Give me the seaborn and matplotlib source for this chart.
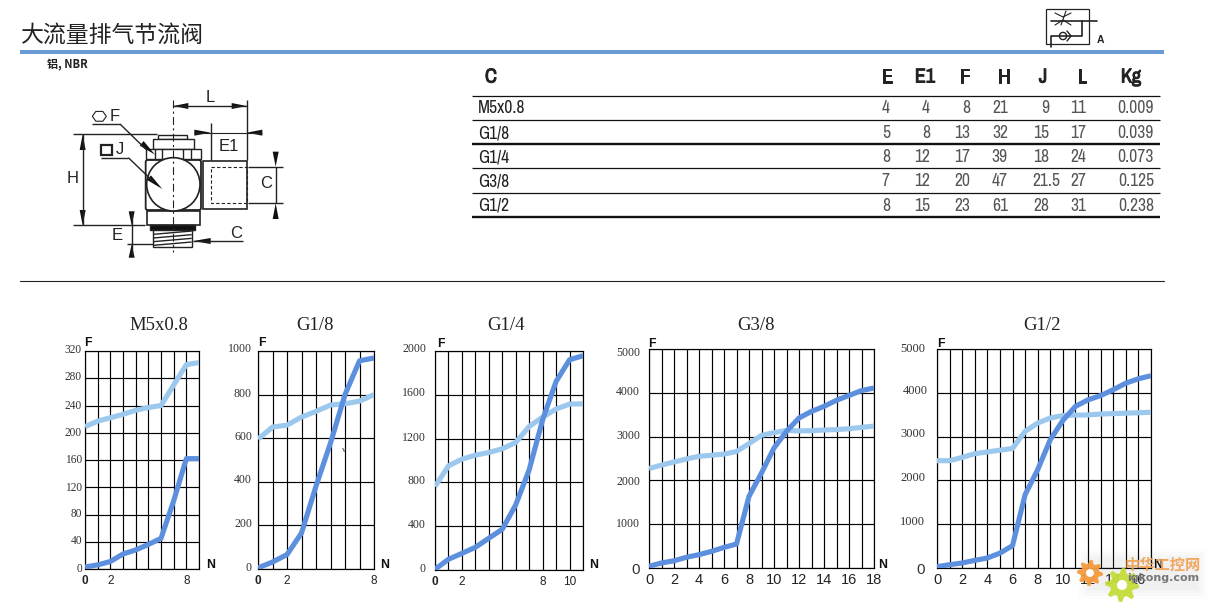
import numpy as np
import matplotlib
matplotlib.use("Agg")
import matplotlib.pyplot as plt
import matplotlib.patheffects as pe
from matplotlib import font_manager as fm
from matplotlib.patches import Rectangle, Circle, Polygon, FancyBboxPatch
from matplotlib.transforms import ScaledTranslation
import seaborn as sns

W, H = 1211, 611

# ---- data ----
titles = ["M5x0.8", "G1/8", "G1/4", "G3/8", "G1/2"]
m5_light = [209, 217, 222, 227, 233, 237, 240, 270, 300, 303]
m5_dark = [3, 6, 11, 22, 28, 36, 45, 100, 162, 162]
g18_light = [596, 651, 660, 697, 723, 752, 758, 770, 800]
g18_dark = [5, 32, 66, 165, 380, 578, 800, 955, 968]
g14_light = [762, 951, 1012, 1049, 1073, 1107, 1165, 1311, 1396, 1470, 1515, 1518]
g14_dark = [6, 98, 152, 207, 290, 372, 595, 915, 1372, 1722, 1920, 1957]
g38_light = [2270, 2350, 2420, 2490, 2550, 2575, 2600, 2660, 2840, 3030, 3090, 3140,
             3130, 3135, 3150, 3160, 3180, 3210, 3240]
g38_dark = [40, 115, 165, 245, 305, 380, 470, 548, 1635, 2170, 2740, 3120, 3425,
            3575, 3690, 3830, 3940, 4050, 4110]
g12_light = [2450, 2450, 2525, 2610, 2650, 2690, 2730, 3120, 3310, 3425, 3480, 3490,
             3495, 3515, 3525, 3535, 3545, 3555]
g12_dark = [30, 76, 114, 175, 228, 340, 510, 1675, 2245, 2930, 3370, 3690, 3840,
            3935, 4070, 4220, 4320, 4390]

y_ticks = [list(range(0, 321, 40)), list(range(0, 1001, 200)), list(range(0, 2001, 400)),
           list(range(0, 5001, 1000)), list(range(0, 5001, 1000))]
x_labelled = [[0, 2, 8], [0, 2, 8], [0, 2, 8, 10],
              list(range(0, 19, 2)), list(range(0, 17, 2))]

table_head = ["C", "E", "E1", "F", "H", "J", "L", "Kg"]
table_ports = ["M5x0.8", "G1/8", "G1/4", "G3/8", "G1/2"]
col_E = ["4", "5", "8", "7", "8"]
col_E1 = ["4", "8", "12", "12", "15"]
col_F = ["8", "13", "17", "20", "23"]
col_H = ["21", "32", "39", "47", "61"]
col_J = ["9", "15", "18", "21.5", "28"]
col_L = ["11", "17", "24", "27", "31"]
col_Kg = ["0.009", "0.039", "0.073", "0.125", "0.238"]

# ---- style ----
sns.set_theme(style="white")
plt.rcParams["font.family"] = ["Liberation Sans", "Noto Sans CJK SC", "DejaVu Sans"]
SERIF = ["Liberation Serif", "DejaVu Serif"]
installed = sorted({f.name for f in fm.fontManager.ttflist})
condensed = [n for n in installed if "Narrow" in n or "Condensed" in n]
NARROW = condensed[:1] + ["Liberation Sans"]
T_SIZE = 12.6 if condensed else 10.3
H_SIZE = 14.5 if condensed else 12.5
CJK = ["Noto Sans CJK SC", "DejaVu Sans"]
DARK, LIGHT, RULE = "#5C90DE", "#9DC8EE", "#6A9BD3"

fig = plt.figure(figsize=(W / 100, H / 100), dpi=100, facecolor="white")

pg = fig.add_axes([0, 0, 1, 1], zorder=5)
pg.set_xlim(0, W)
pg.set_ylim(H, 0)
pg.axis("off")
pg.patch.set_alpha(0)


def px(x, y, s, **kw):
    kw.setdefault("ha", "center")
    kw.setdefault("va", "center")
    pg.text(x, y, s, **kw)


# ---- charts ----
boxes = [(85, 199, 351, 569), (258, 374, 351, 569), (435, 583, 351, 570),
         (649, 874, 349, 568), (937, 1151, 349, 568)]
series = [(m5_light, m5_dark), (g18_light, g18_dark), (g14_light, g14_dark),
          (g38_light, g38_dark), (g12_light, g12_dark)]
y_pads = [3, 6, 9, 9, 12]
y_sizes = [8.3, 8.6, 8.6, 8.6, 9.0]
y_up = [[2, 2.7, 1.7, 1, 1.7, 1.7, 1, 2.7, 2.3],
        [2.3, 3.3, 3, 3, 2, 3.7],
        [3, 3, 3.3, 2.3, 3.3, 3.3],
        [0, 1.3, 0, 2.3, 2, -2.3],
        [0, 3.7, 4, 4, 3.3, 1.7]]
title_x = [159, 315, 506, 756, 1042]
f_pos = [(88, 343), (262, 343), (441, 344), (652, 344), (941, 344)]
n_pos = [(211, 565), (385, 565), (594, 565), (883, 565), (1158, 565)]

for i, (l, r, t, b) in enumerate(boxes):
    ax = fig.add_axes([l / W, 1 - b / H, (r - l) / W, (b - t) / H])
    lt, dk = series[i]
    xs = np.arange(len(lt))
    sns.lineplot(x=xs, y=lt, ax=ax, color=LIGHT, lw=3.7, errorbar=None, zorder=3,
                 solid_capstyle="butt")
    sns.lineplot(x=xs, y=dk, ax=ax, color=DARK, lw=3.7, errorbar=None, zorder=4,
                 solid_capstyle="butt")
    ax.set_xlim(0, xs[-1])
    ax.set_ylim(0, y_ticks[i][-1])
    ax.set_xticks(xs)
    big = i >= 3
    ax.set_xticklabels([str(v) if v in x_labelled[i] else "" for v in xs],
                       fontsize=10.5 if big else 8.5, color="#222222")
    ax.set_yticks(y_ticks[i])
    ax.set_yticklabels([str(v) for v in y_ticks[i]], fontfamily=SERIF, fontsize=y_sizes[i],
                       color="#333333")
    ax.tick_params(axis="both", length=0)
    ax.tick_params(axis="x", pad=3.5 if big else 4.5)
    ax.tick_params(axis="y", pad=y_pads[i] * 0.72)
    ax.grid(True, color="black", lw=0.85, zorder=1)
    ax.set_axisbelow(True)
    for s in ax.spines.values():
        s.set_visible(True)
        s.set_color("black")
        s.set_linewidth(0.85)
    for lab, up, v in zip(ax.get_yticklabels(), y_up[i], y_ticks[i]):
        dx = 3 if (i == 4 and v == 4000) else 0
        lab.set_transform(lab.get_transform() +
                          ScaledTranslation(dx / 100, up / 100, fig.dpi_scale_trans))
    if big:
        ax.get_yticklabels()[0].set_fontfamily(["Liberation Sans"])
        ax.get_yticklabels()[0].set_fontsize(11)
    else:
        ax.get_xticklabels()[0].set_fontweight("bold")
    px(title_x[i], 325, titles[i], fontfamily=SERIF, fontsize=13.5, color="#222222")
    px(*f_pos[i], "F", fontsize=8.8, fontweight="bold", color="#111111")
    px(*n_pos[i], "N", fontsize=8.8, fontweight="bold", color="#111111")
px(344, 450, "v", fontfamily=SERIF, fontsize=6, color="#333333")

# ---- header ----
px(21, 35, "大流量排气节流阀", ha="left", fontfamily=CJK, fontsize=16.5, fontweight="medium",
   color="#222222")
pg.add_patch(Rectangle((20, 50), 1144, 4, fc=RULE, ec="none"))
pg.plot([20, 1164], [281, 281], color="#222222", lw=0.8)
px(47, 65, "铝, NBR", ha="left", fontfamily=CJK, fontsize=8, fontweight="bold", color="#222222")

# ---- table ----
head_x = [491, 887, 925, 965, 1004, 1043, 1082, 1131]
heavy = [pe.withStroke(linewidth=0.7, foreground="#222222")]
for x, s in zip(head_x, table_head):
    px(x, 77, s, fontfamily=NARROW, fontsize=H_SIZE, fontweight="bold", color="#222222",
       path_effects=heavy)
for y, lw in zip([96, 120, 144, 168, 192.5, 217], [0.9, 0.9, 1.7, 0.9, 0.9, 1.7]):
    pg.plot([472, 1160], [y, y], color="#111111", lw=lw, solid_capstyle="butt")
row_y = [108, 133, 157, 181, 206]
cols = [col_E, col_E1, col_F, col_H, col_J, col_L, col_Kg]
col_right = [890, 930, 970, 1008, 1049, 1086, 1154]
for k, y in enumerate(row_y):
    px(478, y, table_ports[k], ha="left", fontfamily=NARROW, fontsize=T_SIZE, color="#222222")
    for c, rx in zip(cols, col_right):
        s = c[k]
        if s == "21.5":
            px(1032, y, s, ha="left", fontfamily=NARROW, fontsize=T_SIZE, color="#555555")
        else:
            px(rx, y, s, ha="right", fontfamily=NARROW, fontsize=T_SIZE, color="#555555")


# ---- dimension drawing (units: zoomed px, 1/3 page px) ----
def z(v):
    return v / 3


def ln(x0, y0, x1, y1, lw=1.0, **kw):
    kw.setdefault("color", "#222222")
    pg.plot([z(x0), z(x1)], [z(y0), z(y1)], lw=lw, solid_capstyle="butt", **kw)


def arrow(tx, ty, fx, fy, w=9):
    d = np.array([fx - tx, fy - ty], float)
    n = np.array([-d[1], d[0]]) / np.hypot(*d) * w
    pts = [(tx, ty), (fx + n[0], fy + n[1]), (fx - n[0], fy - n[1])]
    pg.add_patch(Polygon([(z(a), z(c)) for a, c in pts], fc="#111111", ec="none"))


def box(x0, y0, x1, y1, lw=1.0, **kw):
    kw.setdefault("fc", "white")
    kw.setdefault("ec", "#222222")
    pg.add_patch(Rectangle((z(x0), z(y0)), z(x1 - x0), z(y1 - y0), lw=lw, **kw))


DIM = 12
box(608, 483, 740, 628, lw=1.2)
box(632, 502, 740, 610, lw=0.8, ls=(0, (3, 2)), fill=False)
box(475, 405, 562, 418)
box(458, 418, 582, 447)
box(437, 447, 603, 478)
for xv in [465, 485, 550, 572]:
    ln(xv, 447, xv, 478)
box(440, 632, 600, 676, lw=1.2)
box(450, 676, 585, 690, fc="#111111")
box(460, 690, 575, 740)
for yv in [697, 708, 719, 730]:
    ln(460, yv + 6, 575, yv - 4)
pg.add_patch(FancyBboxPatch((z(437), z(480)), z(166), z(150), boxstyle="round,pad=0,rounding_size=2",
                            fc="white", ec="#222222", lw=1.3))
pg.add_patch(Circle((z(520), z(553)), z(80), fc="white", ec="#222222", lw=1.2))
ln(520, 300, 520, 755, lw=0.8, ls=(0, (7, 3, 2, 3)))
ln(740, 300, 740, 480)
ln(520, 318, 740, 318)
arrow(520, 318, 565, 318)
arrow(740, 318, 695, 318)
px(z(632), z(292), "L", fontsize=DIM, color="#222222")
ln(632, 370, 632, 480)
ln(583, 398, 787, 398, lw=0.8)
arrow(632, 398, 583, 398)
arrow(740, 398, 787, 398)
px(z(687), z(440), "E1", fontsize=DIM, color="#222222")
ln(220, 403, 470, 403)
ln(220, 676, 435, 676)
ln(248, 403, 248, 676)
arrow(248, 403, 248, 450)
arrow(248, 676, 248, 630)
px(z(218), z(535), "H", fontsize=DIM, color="#222222")
pg.add_patch(Polygon([(z(298 + 21 * np.cos(a)), z(349 + 17 * np.sin(a))) for a in np.arange(6) * np.pi / 3],
                     fc="white", ec="#222222", lw=0.8))
px(z(343), z(349), "F", fontsize=DIM, color="#222222")
ln(275, 372, 360, 372)
ln(360, 372, 440, 450)
arrow(465, 464, 425, 430)
box(302, 435, 336, 465, lw=1.6)
px(z(360), z(447), "J", fontsize=DIM, color="#222222")
ln(303, 473, 385, 473)
ln(385, 473, 460, 545)
arrow(487, 567, 447, 533)
ln(745, 500, 850, 500)
ln(745, 610, 850, 610)
ln(827, 500, 827, 610)
arrow(827, 500, 827, 455)
arrow(827, 610, 827, 657)
px(z(797), z(550), "C", fontsize=DIM, color="#222222")
ln(380, 733, 460, 733)
ln(395, 634, 395, 772)
arrow(395, 676, 395, 634)
arrow(395, 733, 395, 773)
px(z(353), z(705), "E", fontsize=DIM, color="#222222")
ln(580, 723, 730, 723)
arrow(580, 723, 632, 723)
px(z(708), z(700), "C", fontsize=DIM, color="#222222")

# ---- pneumatic symbol ----
pg.add_patch(Rectangle((1046, 9), 43, 35, fc="white", ec="#222222", lw=0.9))
pg.plot([1051, 1097], [21, 21], color="#222222", lw=1.2)
pg.plot([1051, 1051, 1082, 1082], [47, 36, 36, 21], color="#222222", lw=1.2)
pg.add_patch(Circle((1063, 36), 3.6, fc="white", ec="#222222", lw=1))
pg.plot([1067, 1071, 1067], [31, 36, 41], color="#222222", lw=1)
pg.plot([1055, 1063, 1071], [13, 17, 13], color="#222222", lw=0.8)
pg.plot([1055, 1063, 1071], [25, 20, 25], color="#222222", lw=0.8)
pg.plot([1061, 1066], [25, 11], color="#222222", lw=0.8)
px(1100, 40, "A", fontsize=7.5, fontweight="bold", color="#222222")


# ---- watermark ----
def gear(cx, cy, ro, ri, n, color):
    a = np.linspace(0, 2 * np.pi, n * 4, endpoint=False)
    rr = np.tile([ro, ro, ri, ri], n)
    pg.add_patch(Polygon(np.c_[cx + rr * np.cos(a), cy + rr * np.sin(a)], fc=color, ec="none", alpha=0.95))
    pg.add_patch(Circle((cx, cy), ri * 0.42, fc="white", ec="none"))


for grow, al in [(0, 0.035), (3, 0.03), (6, 0.025), (9, 0.02)]:
    pg.add_patch(Rectangle((1088 - grow, 558 - grow), 110 + 2 * grow, 32 + 2 * grow,
                           fc="#888888", ec="none", alpha=al))
gear(1090, 573, 13, 9.5, 8, "#F59A3C")
gear(1122, 585, 17, 12, 8, "#C5DC3A")
px(1163, 565, "中华工控网", fontfamily=CJK, fontsize=11, fontweight="bold", color="#F0A050", alpha=0.9)
px(1163, 578, "igkong.com", fontfamily=["DejaVu Sans"], fontsize=8, fontweight="bold", color="#777777")

fig.savefig("out.png", dpi=100)
